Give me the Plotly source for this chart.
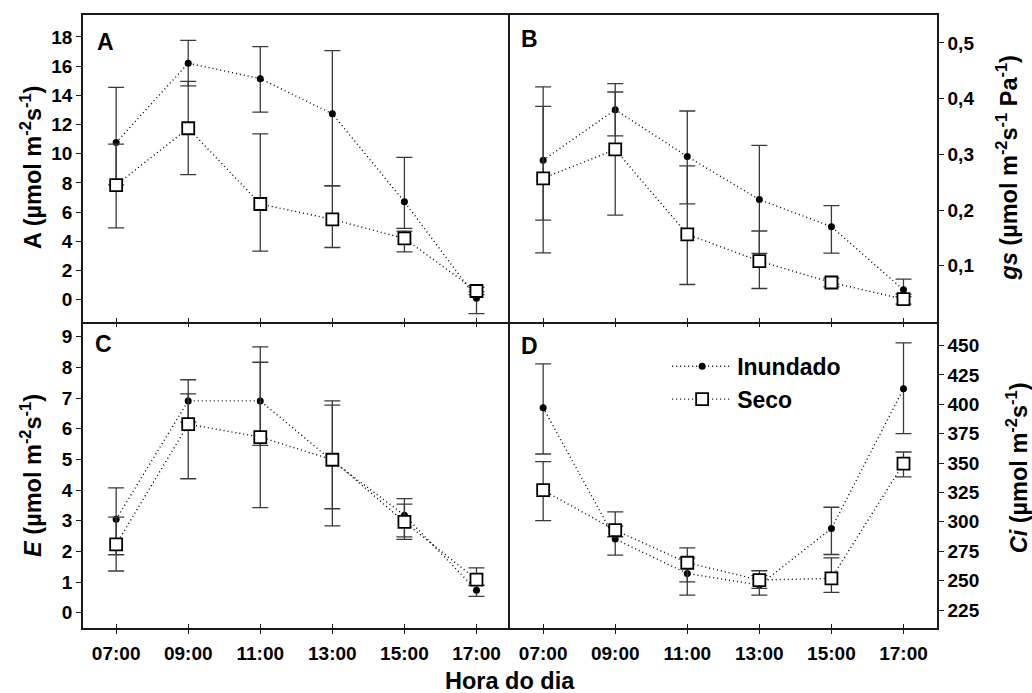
import plotly.graph_objects as go

# ---------------- data ----------------
hours = [7, 9, 11, 13, 15, 17]
hour_labels = ["07:00", "09:00", "11:00", "13:00", "15:00", "17:00"]

# Panel A : net photosynthesis
A_inund = [10.76, 16.2, 15.14, 12.73, 6.71, 0.10]
A_inund_up = [3.78, 1.56, 2.2, 4.33, 3.04, 0.45]
A_inund_dn = [2.9, 1.55, 2.3, 4.94, 1.83, 1.06]
A_seco = [7.85, 11.74, 6.55, 5.5, 4.19, 0.59]
A_seco_up = [2.8, 3.21, 4.81, 2.29, 0.5, 0.25]
A_seco_dn = [2.93, 3.18, 3.23, 1.93, 0.92, 0.25]

# Panel B : stomatal conductance
B_inund = [0.2895, 0.38, 0.2961, 0.2187, 0.1702, 0.0568]
B_inund_up = [0.0965, 0.047, 0.0816, 0.0972, 0.0377, 0.0192]
B_inund_dn = [0.1075, 0.047, 0.0851, 0.0965, 0.0474, 0.012]
B_seco = [0.257, 0.3087, 0.1564, 0.1084, 0.07, 0.04]
B_seco_up = [0.164, 0.1031, 0.1229, 0.054, 0.008, 0.009]
B_seco_dn = [0.134, 0.1177, 0.09, 0.0492, 0.008, 0.009]

# Panel C : transpiration
C_inund = [3.05, 6.91, 6.91, 4.95, 3.18, 0.73]
C_inund_up = [1.02, 0.69, 1.76, 1.96, 0.54, 0.16]
C_inund_dn = [1.16, 0.69, 1.45, 2.12, 0.71, 0.2]
C_seco = [2.23, 6.15, 5.73, 4.99, 2.96, 1.08]
C_seco_up = [0.89, 0.99, 2.44, 1.78, 0.58, 0.38]
C_seco_dn = [0.87, 1.78, 2.3, 1.6, 0.57, 0.19]

# Panel D : intercellular CO2
D_inund = [397.1, 285.3, 256.1, 246.2, 294.3, 413.2]
D_inund_up = [37.3, 11.0, 13.3, 8.0, 18.1, 39.1]
D_inund_dn = [39.4, 13.6, 18.4, 8.5, 22.1, 38.2]
D_seco = [326.9, 292.9, 265.2, 250.5, 251.9, 349.5]
D_seco_up = [24.3, 15.6, 12.7, 7.9, 17.5, 9.9]
D_seco_dn = [25.8, 5.6, 16.2, 7.1, 11.9, 11.3]

A_ticks = [0, 2, 4, 6, 8, 10, 12, 14, 16, 18]
B_ticks = [0.1, 0.2, 0.3, 0.4, 0.5]
B_ticktext = ["0,1", "0,2", "0,3", "0,4", "0,5"]
C_ticks = [0, 1, 2, 3, 4, 5, 6, 7, 8, 9]
D_ticks = [225, 250, 275, 300, 325, 350, 375, 400, 425, 450]

series_names = ["Inundado", "Seco"]

# ---------------- style ----------------
FONT = "Liberation Sans, Arial, sans-serif"
AXC = "#1a1a1a"
ERRC = "#3a3a3a"
XR = [6.08, 17.93]

fig = go.Figure()


def add_pair(inund, iu, idn, seco, su, sdn, xa, ya, show):
    fig.add_trace(go.Scatter(
        x=hours, y=inund, name=series_names[0], mode="lines+markers",
        xaxis=xa, yaxis=ya, showlegend=show, legendrank=1,
        line=dict(color="black", width=1.4, dash="1px,3px"),
        marker=dict(symbol="circle", size=7, color="black"),
        error_y=dict(type="data", symmetric=False, array=iu, arrayminus=idn,
                     color=ERRC, thickness=1.3, width=8),
    ))
    fig.add_trace(go.Scatter(
        x=hours, y=seco, name=series_names[1], mode="lines+markers",
        xaxis=xa, yaxis=ya, showlegend=show, legendrank=2,
        line=dict(color="black", width=1.4, dash="1px,3px"),
        marker=dict(symbol="square", size=12, color="white",
                    line=dict(color="black", width=1.8)),
        error_y=dict(type="data", symmetric=False, array=su, arrayminus=sdn,
                     color=ERRC, thickness=1.3, width=8),
    ))


add_pair(A_inund, A_inund_up, A_inund_dn, A_seco, A_seco_up, A_seco_dn, "x", "y", False)
add_pair(B_inund, B_inund_up, B_inund_dn, B_seco, B_seco_up, B_seco_dn, "x2", "y2", False)
add_pair(C_inund, C_inund_up, C_inund_dn, C_seco, C_seco_up, C_seco_dn, "x3", "y3", False)
add_pair(D_inund, D_inund_up, D_inund_dn, D_seco, D_seco_up, D_seco_dn, "x4", "y4", True)

# empty traces so the overlay axes (inward ticks) get drawn
for xa, ya in [("x5", "y3"), ("x6", "y4"), ("x7", "y"), ("x8", "y2")]:
    fig.add_trace(go.Scatter(x=[], y=[], xaxis=xa, yaxis=ya, showlegend=False,
                             hoverinfo="skip"))

tickfont = dict(family=FONT, size=19, color="black", weight="bold")

xbase = dict(range=XR, tickmode="array", tickvals=hours, ticktext=hour_labels,
             showline=True, linecolor=AXC, linewidth=1.5, ticks="outside",
             ticklen=4, tickwidth=1.3, tickcolor=AXC, showgrid=False,
             zeroline=False, tickfont=tickfont)
ybase = dict(showline=True, linecolor=AXC, linewidth=1.5, ticks="outside",
             ticklen=5, tickwidth=1.3, tickcolor=AXC, showgrid=False,
             zeroline=False, tickfont=tickfont, tickmode="array")
inward = dict(ticks="inside", showline=False, showticklabels=False)

SPLIT = 0.5

fig.update_layout(
    width=1032, height=693,
    margin=dict(l=83, r=95, t=15, b=65),
    paper_bgcolor="white", plot_bgcolor="white",
    font=dict(family=FONT, color="black"),
    xaxis=dict(xbase, domain=[0, 0.5], anchor="y", showticklabels=False, mirror=True),
    xaxis2=dict(xbase, domain=[0.5, 1], anchor="y2", showticklabels=False, mirror=True),
    xaxis3=dict(xbase, domain=[0, 0.5], anchor="y3", mirror=False, ticklabelstandoff=3),
    xaxis4=dict(xbase, domain=[0.5, 1], anchor="y4", mirror=False, ticklabelstandoff=3),
    xaxis5=dict(xbase, **inward, overlaying="x3", anchor="y3", matches="x3"),
    xaxis6=dict(xbase, **inward, overlaying="x4", anchor="y4", matches="x4"),
    xaxis7=dict(xbase, **inward, overlaying="x", anchor="y", matches="x"),
    xaxis8=dict(xbase, **inward, overlaying="x2", anchor="y2", matches="x2"),
    yaxis=dict(ybase, domain=[SPLIT, 1], anchor="x", range=[-1.5, 19.5],
               tickvals=A_ticks, mirror=False),
    yaxis2=dict(ybase, domain=[SPLIT, 1], anchor="x2", side="right", mirror=True,
                range=[0, 0.55], tickvals=B_ticks, ticktext=B_ticktext),
    yaxis3=dict(ybase, domain=[0, SPLIT], anchor="x3", range=[-0.5, 9.5],
                tickvals=C_ticks, mirror=False),
    yaxis4=dict(ybase, domain=[0, SPLIT], anchor="x4", side="right", mirror=True,
                range=[209.7, 470.4], tickvals=D_ticks),
    legend=dict(x=0.684, y=0.462, xanchor="left", yanchor="top",
                bgcolor="rgba(0,0,0,0)", borderwidth=0, itemwidth=60,
                font=dict(family=FONT, size=23, color="black", weight="bold"),
                tracegroupgap=0),
)

title_font = dict(family=FONT, size=23.5, color="black", weight="bold")
letter_font = dict(family=FONT, size=23, color="black", weight="bold")
ann = []
# panel letters
for txt, xr, yr, xx, yy in [("A", "x domain", "y domain", 0.052, 0.913),
                            ("B", "x2 domain", "y2 domain", 0.046, 0.923),
                            ("C", "x3 domain", "y3 domain", 0.049, 0.928),
                            ("D", "x4 domain", "y4 domain", 0.045, 0.919)]:
    ann.append(dict(text=txt, xref=xr, yref=yr, x=xx, y=yy, showarrow=False,
                    xanchor="center", yanchor="middle", font=letter_font))
# axis titles
ann.append(dict(text="A (µmol m<sup>-2</sup>s<sup>-1</sup>)", xref="paper", yref="paper",
                x=-0.061, y=0.752, textangle=-90, showarrow=False,
                xanchor="center", yanchor="middle", font=title_font))
ann.append(dict(text="<i>gs</i> (µmol m<sup>-2</sup>s<sup>-1</sup> Pa<sup>-1</sup>)",
                xref="paper", yref="paper", x=1.082, y=0.751, textangle=-90,
                showarrow=False, xanchor="center", yanchor="middle", font=title_font))
ann.append(dict(text="<i>E</i> (µmol m<sup>-2</sup>s<sup>-1</sup>)", xref="paper", yref="paper",
                x=-0.061, y=0.2496, textangle=-90, showarrow=False,
                xanchor="center", yanchor="middle", font=title_font))
ann.append(dict(text="<i>Ci</i> (µmol m<sup>-2</sup>s<sup>-1</sup>)", xref="paper", yref="paper",
                x=1.094, y=0.261, textangle=-90, showarrow=False,
                xanchor="center", yanchor="middle", font=title_font))
ann.append(dict(text="Hora do dia", xref="paper", yref="paper",
                x=(510 - 83) / 854, y=-0.0865, showarrow=False,
                xanchor="center", yanchor="middle", font=title_font))
fig.update_layout(annotations=ann)

fig.write_html("out.html")
